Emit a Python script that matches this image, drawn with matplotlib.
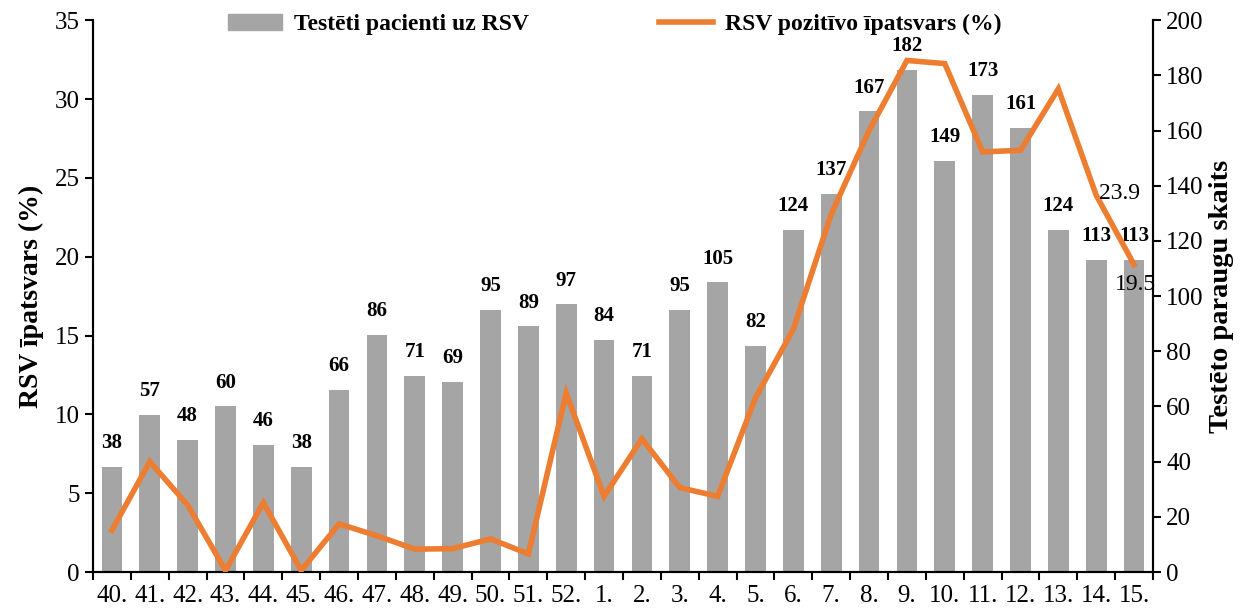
import matplotlib.pyplot as plt
from matplotlib.patches import Patch
from matplotlib.lines import Line2D

plt.rcParams['font.family'] = ['Liberation Serif', 'DejaVu Serif']

# weeks (season 40.-52., then 1.-15.)
weeks = ['40.', '41.', '42.', '43.', '44.', '45.', '46.', '47.', '48.', '49.',
         '50.', '51.', '52.', '1.', '2.', '3.', '4.', '5.', '6.', '7.', '8.',
         '9.', '10.', '11.', '12.', '13.', '14.', '15.']
tested = [38, 57, 48, 60, 46, 38, 66, 86, 71, 69, 95, 89, 97, 84, 71, 95, 105,
          82, 124, 137, 167, 182, 149, 173, 161, 124, 113, 113]
positive_pct = [2.65, 7.0, 4.25, 0.1, 4.4, 0.1, 3.05, 2.3, 1.45, 1.48, 2.1,
                1.15, 11.35, 4.8, 8.45, 5.35, 4.8, 11.05, 15.4, 22.7, 28.0,
                32.45, 32.25, 26.65, 26.75, 30.65, 23.9, 19.5]

BAR_COLOR = '#A5A5A5'
LINE_COLOR = '#ED7D31'

fig = plt.figure(figsize=(12.5, 6.14), dpi=100)
ax = fig.add_axes([0.0744, 0.0684, 0.848, 0.8986])
ax2 = ax.twinx()

x = list(range(len(weeks)))

# bars on the right axis (counts)
ax2.bar(x, tested, width=0.55, color=BAR_COLOR, zorder=2)
for xi, v in zip(x, tested):
    ax2.text(xi, v + 5, str(v), ha='center', va='bottom', fontsize=15,
             fontweight='bold')
ax2.set_ylim(0, 200)
ax2.set_yticks(range(0, 201, 20))
ax2.set_ylabel('Testēto paraugu skaits', fontsize=20.5, fontweight='bold',
               labelpad=4)

# line on the left axis (percent)
ax.plot(x, positive_pct, color=LINE_COLOR, linewidth=4, zorder=3,
        solid_joinstyle='miter')
ax.set_ylim(0, 35)
ax.set_yticks(range(0, 36, 5))
ax.set_ylabel('RSV īpatsvars (%)', fontsize=20, fontweight='bold',
              labelpad=8)
ax.set_zorder(ax2.get_zorder() + 1)
ax.patch.set_visible(False)

ax.annotate('23.9', (x[-2], positive_pct[-2]), xytext=(2, 1),
            textcoords='offset points', ha='left', va='center', fontsize=17)
ax.annotate('19.5', (x[-1], positive_pct[-1]), xytext=(1, -7),
            textcoords='offset points', ha='center', va='top', fontsize=17)

ax.set_xlim(-0.5, len(weeks) - 0.5)
ax.set_xticks([i + 0.5 for i in range(-1, len(weeks))])
ax.set_xticklabels([])
ax.set_xticks(x, minor=True)
ax.set_xticklabels(weeks, minor=True, fontsize=18)
ax.tick_params(axis='x', which='major', length=6, width=1.5, direction='out')
ax.tick_params(axis='x', which='minor', length=0, pad=9)
ax.tick_params(axis='y', labelsize=18, length=6, width=1.5)
ax2.tick_params(axis='y', labelsize=18, length=6, width=1.5)

for a in (ax, ax2):
    a.spines['top'].set_visible(False)
    for s in ('left', 'right', 'bottom'):
        a.spines[s].set_linewidth(1.5)

handles = [Patch(color=BAR_COLOR), Line2D([], [], color=LINE_COLOR, lw=4)]
labels = ['Testēti pacienti uz RSV', 'RSV pozitīvo īpatsvars (%)']
ax.legend(handles, labels, loc='upper center', ncol=2, frameon=False,
          bbox_to_anchor=(0.492, 1.05), prop={'size': 17, 'weight': 'bold'},
          columnspacing=5.5, handlelength=2.3, handletextpad=0.5)

fig.savefig('out.png', dpi=100)
